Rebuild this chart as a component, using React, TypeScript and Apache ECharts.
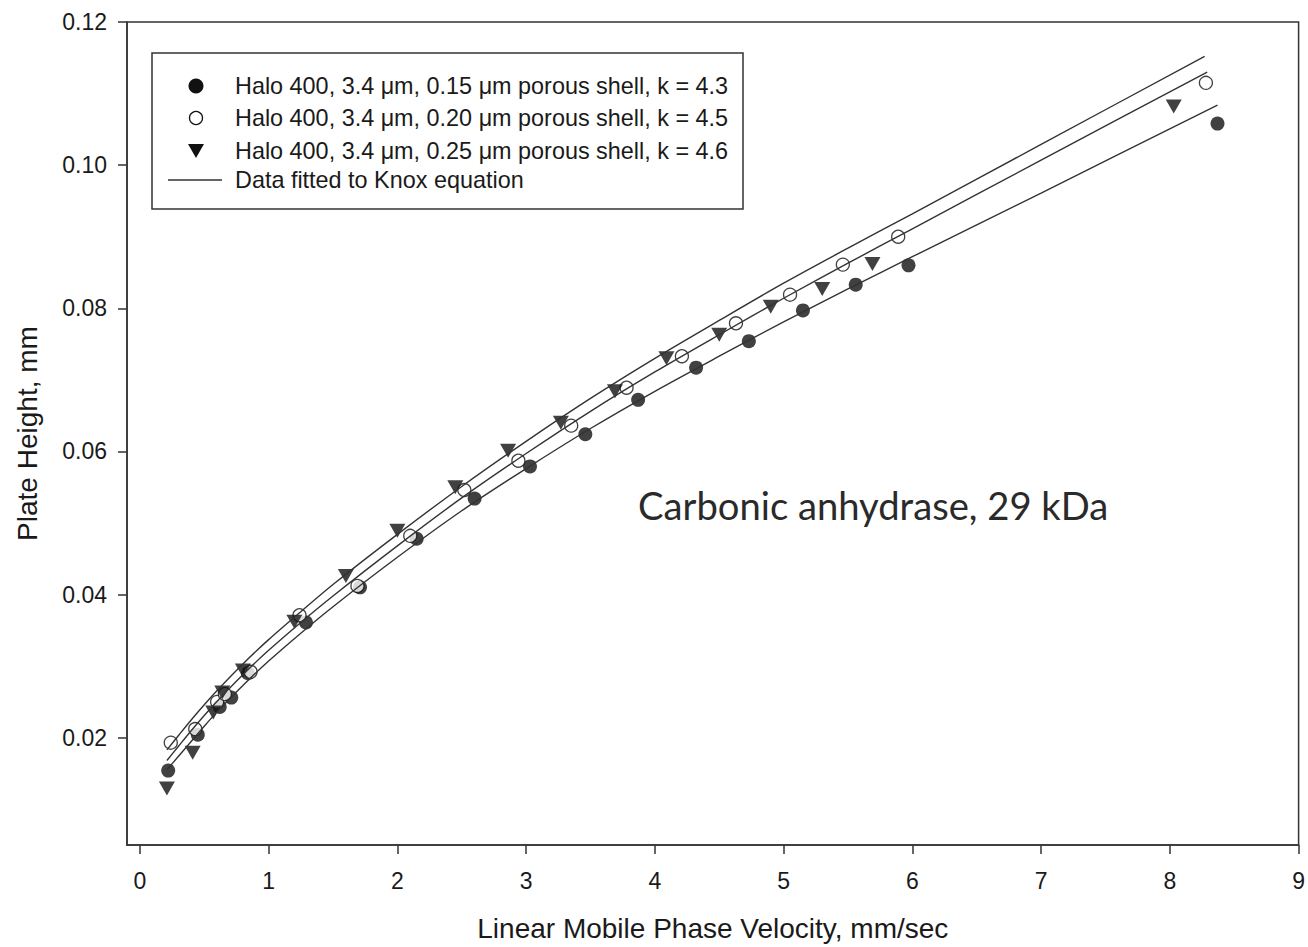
import React, { useEffect, useRef } from "react";
import * as echarts from "echarts";

// ---- data ----
const xTickValues = [0, 1, 2, 3, 4, 5, 6, 7, 8, 9];
const yTickValues = [0.02, 0.04, 0.06, 0.08, 0.1, 0.12];

const legendLabels = [
  "Halo 400, 3.4 μm, 0.15 μm porous shell, k = 4.3",
  "Halo 400, 3.4 μm, 0.20 μm porous shell, k = 4.5",
  "Halo 400, 3.4 μm, 0.25 μm porous shell, k = 4.6",
  "Data fitted to Knox equation",
];

const filledX = [0.22, 0.45, 0.62, 0.71, 0.84, 1.29, 1.71, 2.15, 2.6, 3.03, 3.46, 3.87, 4.32, 4.73, 5.15, 5.56, 5.97, 8.37];
const filledY = [0.0154, 0.0204, 0.0243, 0.0256, 0.029, 0.0361, 0.041, 0.0478, 0.0534, 0.0579, 0.0624, 0.0672, 0.0717, 0.0754, 0.0797, 0.0833, 0.086, 0.1058];

const openX = [0.24, 0.43, 0.6, 0.66, 0.86, 1.24, 1.69, 2.1, 2.52, 2.94, 3.35, 3.78, 4.21, 4.63, 5.05, 5.46, 5.89, 8.28];
const openY = [0.0193, 0.0212, 0.025, 0.0261, 0.0292, 0.0371, 0.0412, 0.0482, 0.0546, 0.0587, 0.0636, 0.0689, 0.0733, 0.0779, 0.0819, 0.0861, 0.09, 0.1115];

const triX = [0.21, 0.41, 0.57, 0.64, 0.8, 1.2, 1.6, 2.0, 2.45, 2.86, 3.27, 3.69, 4.09, 4.5, 4.9, 5.3, 5.69, 8.03];
const triY = [0.0129, 0.0179, 0.0235, 0.0263, 0.0294, 0.0362, 0.0426, 0.0489, 0.055, 0.0601, 0.064, 0.0684, 0.073, 0.0763, 0.0802, 0.0827, 0.0862, 0.1082];

const fitTopX = [0.21, 0.3, 0.4, 0.5, 0.6, 0.8, 1.0, 1.25, 1.5, 2.0, 2.5, 3.0, 3.5, 4.0, 4.5, 5.0, 5.5, 6.0, 7.0, 8.27];
const fitTopY = [0.0183, 0.0203, 0.0225, 0.0246, 0.0266, 0.0303, 0.0337, 0.0376, 0.0414, 0.0484, 0.0551, 0.0614, 0.0674, 0.073, 0.0783, 0.0835, 0.0884, 0.0932, 0.1029, 0.1152];

const fitMidX = [0.21, 0.3, 0.4, 0.5, 0.6, 0.8, 1.0, 1.25, 1.5, 2.0, 2.5, 3.0, 3.5, 4.0, 4.5, 5.0, 5.5, 6.0, 7.0, 8.29];
const fitMidY = [0.0168, 0.0188, 0.021, 0.0231, 0.0251, 0.0288, 0.0322, 0.0361, 0.0398, 0.0468, 0.0535, 0.0597, 0.0656, 0.0711, 0.0763, 0.0814, 0.0863, 0.0911, 0.1007, 0.113];

const fitLowX = [0.21, 0.3, 0.4, 0.5, 0.6, 0.8, 1.0, 1.25, 1.5, 2.0, 2.5, 3.0, 3.5, 4.0, 4.5, 5.0, 5.5, 6.0, 7.0, 8.37];
const fitLowY = [0.0155, 0.0174, 0.0195, 0.0216, 0.0236, 0.0273, 0.0307, 0.0346, 0.0383, 0.0452, 0.0517, 0.0576, 0.0632, 0.0684, 0.0733, 0.0781, 0.0827, 0.0872, 0.0961, 0.1084];

const annotation = "Carbonic anhydrase, 29 kDa";
const xTitle = "Linear Mobile Phase Velocity, mm/sec";
const yTitle = "Plate Height, mm";

const pairs = (xs: number[], ys: number[]) => xs.map((x, i) => [x, ys[i]]);

const FONT = '"Liberation Sans", Arial, sans-serif';
const INK = "#1a1a1a";
const LINE = "#333";

export default function App() {
  const ref = useRef<HTMLDivElement>(null);

  useEffect(() => {
    if (!ref.current) return;
    const chart = echarts.init(ref.current, undefined, { renderer: "svg" });

    const fitLine = (name: string, xs: number[], ys: number[]) => ({
      name,
      type: "line",
      data: pairs(xs, ys),
      smooth: 0.3,
      showSymbol: false,
      symbol: "none",
      lineStyle: { color: LINE, width: 1.4 },
      z: 5,
      silent: true,
    });

    const rowY = [86, 118, 151, 180];

    chart.setOption({
      animation: false,
      backgroundColor: "#fff",
      grid: {
        left: 127,
        right: 8,
        top: 22,
        bottom: 101,
        show: true,
        borderColor: LINE,
        borderWidth: 1.5,
        backgroundColor: "transparent",
      },
      xAxis: {
        type: "value",
        min: -0.1,
        max: 9,
        name: xTitle,
        nameLocation: "middle",
        nameGap: 69,
        nameTextStyle: { fontSize: 28, fontFamily: FONT, color: INK },
        axisLine: { show: true, onZero: false, lineStyle: { color: LINE, width: 1.5 } },
        axisTick: {
          show: true,
          inside: false,
          length: 9,
          customValues: xTickValues,
          lineStyle: { color: LINE, width: 1.5 },
        },
        axisLabel: {
          customValues: xTickValues,
          margin: 24,
          fontSize: 23,
          fontFamily: FONT,
          color: INK,
          formatter: (v: number) => String(v),
        },
        splitLine: { show: false },
      },
      yAxis: {
        type: "value",
        min: 0.005,
        max: 0.12,
        name: yTitle,
        nameLocation: "middle",
        nameGap: 86,
        nameRotate: 90,
        nameTextStyle: { fontSize: 28, fontFamily: FONT, color: INK },
        axisLine: { show: true, onZero: false, lineStyle: { color: LINE, width: 1.5 } },
        axisTick: {
          show: true,
          inside: false,
          length: 9,
          customValues: yTickValues,
          lineStyle: { color: LINE, width: 1.5 },
        },
        axisLabel: {
          customValues: yTickValues,
          margin: 20,
          fontSize: 23,
          fontFamily: FONT,
          color: INK,
          formatter: (v: number) => v.toFixed(2),
        },
        splitLine: { show: false },
      },
      series: [
        {
          name: legendLabels[0],
          type: "scatter",
          data: pairs(filledX, filledY),
          symbol: "circle",
          symbolSize: 14,
          itemStyle: { color: "#111" },
          z: 2,
        },
        {
          name: legendLabels[1],
          type: "scatter",
          data: pairs(openX, openY),
          symbol: "circle",
          symbolSize: 13,
          itemStyle: { color: "#fff", borderColor: "#111", borderWidth: 1.3 },
          z: 3,
        },
        {
          name: legendLabels[2],
          type: "scatter",
          data: pairs(triX, triY),
          symbol: "triangle",
          symbolSize: [16, 14],
          symbolRotate: 180,
          itemStyle: { color: "#111" },
          z: 4,
        },
        fitLine(legendLabels[3], fitTopX, fitTopY),
        fitLine(legendLabels[3] + " (2)", fitMidX, fitMidY),
        fitLine(legendLabels[3] + " (3)", fitLowX, fitLowY),
      ],
      graphic: [
        {
          type: "rect",
          shape: { x: 152, y: 53, width: 591, height: 156 },
          style: { fill: "#fff", stroke: LINE, lineWidth: 1.5 },
          z: 100,
        },
        {
          type: "circle",
          shape: { cx: 196, cy: rowY[0], r: 7.5 },
          style: { fill: "#111" },
          z: 101,
        },
        {
          type: "circle",
          shape: { cx: 196, cy: rowY[1], r: 6.5 },
          style: { fill: "#fff", stroke: "#111", lineWidth: 1.3 },
          z: 101,
        },
        {
          type: "polygon",
          shape: {
            points: [
              [188, rowY[2] - 7],
              [204, rowY[2] - 7],
              [196, rowY[2] + 7],
            ],
          },
          style: { fill: "#111" },
          z: 101,
        },
        {
          type: "line",
          shape: { x1: 168, y1: rowY[3], x2: 222, y2: rowY[3] },
          style: { stroke: LINE, lineWidth: 1.4 },
          z: 101,
        },
        ...legendLabels.map((t, i) => ({
          type: "text",
          x: 235,
          y: rowY[i],
          style: {
            text: t,
            fontSize: 23.4,
            fontFamily: FONT,
            fill: INK,
            verticalAlign: "middle",
            align: "left",
          },
          z: 101,
        })),
        {
          type: "text",
          x: 638,
          y: 505,
          style: {
            text: annotation,
            fontSize: 38.2,
            fontFamily: "Lato, 'Open Sans', sans-serif",
            fill: "#2a2a2a",
            verticalAlign: "middle",
            align: "left",
          },
          z: 101,
        },
      ],
    });

    return () => chart.dispose();
  }, []);

  return (
    <div
      ref={ref}
      style={{ position: "absolute", left: 0, top: 0, width: 1308, height: 947 }}
    />
  );
}
